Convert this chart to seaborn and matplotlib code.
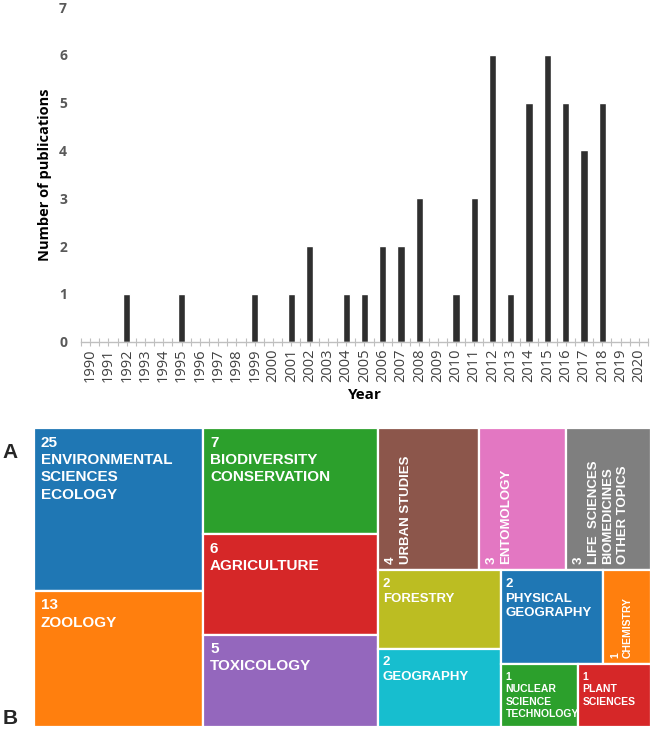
import matplotlib
matplotlib.use("Agg")
import matplotlib.pyplot as plt
import matplotlib.patches as mpatches
from matplotlib.ticker import FixedLocator
import seaborn as sns
import pandas as pd

# ---------------- data ----------------
years = [str(y) for y in range(1990, 2021)]
publications = [0, 0, 1, 0, 0, 1, 0, 0, 0, 1, 0, 1, 2, 0, 1, 1, 2, 2, 3, 0,
                1, 3, 6, 1, 5, 6, 5, 4, 5, 0, 0]
y_ticks = [0, 1, 2, 3, 4, 5, 6, 7]

categories = ["ENVIRONMENTAL\nSCIENCES\nECOLOGY", "ZOOLOGY", "BIODIVERSITY\nCONSERVATION",
              "AGRICULTURE", "TOXICOLOGY", "URBAN STUDIES", "ENTOMOLOGY",
              "LIFE  SCIENCES\nBIOMEDICINES\nOTHER TOPICS", "FORESTRY", "GEOGRAPHY",
              "PHYSICAL\nGEOGRAPHY", "CHEMISTRY", "NUCLEAR\nSCIENCE\nTECHNOLOGY",
              "PLANT\nSCIENCES"]
category_counts = [25, 13, 7, 6, 5, 4, 3, 3, 2, 2, 2, 1, 1, 1]
# relative tile sizes as drawn in the reference treemap
tile_sizes = [269, 225, 181, 172, 158, 140, 122, 118, 94, 94, 94, 44, 47, 45]
rotated = [False, False, False, False, False, True, True, True, False, False,
           False, True, False, False]
label_sizes = [11, 11, 11, 11, 11, 9.5, 9.5, 9.5, 9.5, 9.5, 9.5, 7.5, 7.5, 7.5]

# nested slice layout of the treemap: 'h' = side by side, 'v' = stacked
tree = ('h', [('v', [0, 1]),
              ('v', [2, 3, 4]),
              ('v', [('h', [5, 6, 7]),
                     ('h', [('v', [8, 9]),
                            ('v', [('h', [10, 11]), ('h', [12, 13])])])])])

# ---------------- figure ----------------
sns.set_style("white")
plt.rcParams['font.family'] = ['Open Sans', 'DejaVu Sans']

fig = plt.figure(figsize=(6.51, 7.34), dpi=100)

# ---- bar chart ----
ax = fig.add_axes([81/651, 1 - 341.7/734, (648-81)/651, (341.7-7)/734])
df = pd.DataFrame({"Year": years, "Publications": publications})
sns.barplot(data=df, x="Year", y="Publications", color="#2f2f2f", width=0.4,
            saturation=1, ax=ax, order=years)
ax.set_xlim(-0.5, len(years) - 0.5)
ax.set_ylim(0, 7)
ax.set_yticks(y_ticks)
for s in ["top", "right", "left"]:
    ax.spines[s].set_visible(False)
ax.spines["bottom"].set_color("#bfbfbf")
ax.spines["bottom"].set_linewidth(1.0)
ax.xaxis.set_minor_locator(FixedLocator([i - 0.5 for i in range(len(years) + 1)]))
ax.tick_params(axis="x", which="both", direction="inout", length=6, width=0.8,
               color="#bfbfbf", bottom=True)
ax.tick_params(axis="x", which="major", labelsize=10.5, labelcolor="#404040",
               labelrotation=90, pad=2)
ax.tick_params(axis="y", length=0, labelsize=10, labelcolor="#595959", pad=10)
for t in ax.get_yticklabels():
    t.set_fontweight("bold")
ax.set_xlabel("Year", fontsize=11, fontweight="bold", color="black", labelpad=4)
ax.set_ylabel("Number of publications", fontsize=10.5, fontweight="bold",
              color="black", labelpad=5)
ax.grid(False)

# ---- treemap ----
tx = fig.add_axes([34/651, 1 - 727/734, (651-34)/651, (727-428)/734])
tx.set_xlim(0, 1)
tx.set_ylim(1, 0)
tx.axis("off")

palette = sns.color_palette("tab10", 10)


def weight(node):
    if isinstance(node, int):
        return tile_sizes[node]
    return sum(weight(c) for c in node[1])


rects = {}


def layout(node, x, y, w, h):
    if isinstance(node, int):
        rects[node] = (x, y, w, h)
        return
    d, children = node
    tot = weight(node)
    pos = 0.0
    for c in children:
        f = weight(c) / tot
        if d == 'h':
            layout(c, x + pos * w, y, f * w, h)
        else:
            layout(c, x, y + pos * h, w, f * h)
        pos += f


layout(tree, 0, 0, 1, 1)

for i in range(len(categories)):
    x, y, w, h = rects[i]
    tx.add_patch(mpatches.Rectangle((x, y), w, h, facecolor=palette[i % 10],
                                    edgecolor="white", linewidth=1.6))
    label = f"{category_counts[i]}\n{categories[i]}"
    if rotated[i]:
        tx.annotate(label, xy=(x, y + h), xytext=(5, 4.5),
                    textcoords="offset points", rotation=90,
                    rotation_mode="anchor", ha="left", va="top",
                    fontsize=label_sizes[i], fontweight="bold", color="white",
                    family="Liberation Sans", linespacing=1.3)
    else:
        pad = 5 if label_sizes[i] >= 11 else 3.5
        tx.annotate(label, xy=(x, y), xytext=(pad, -5.5),
                    textcoords="offset points", ha="left", va="top",
                    fontsize=label_sizes[i], fontweight="bold", color="white",
                    family="Liberation Sans", linespacing=1.3)

fig.text(10/651, 1 - 452/734, "A", fontsize=15, fontweight="bold",
         ha="center", va="center", family="Liberation Sans")
fig.text(10/651, 1 - 719/734, "B", fontsize=15, fontweight="bold",
         ha="center", va="center", family="Liberation Sans")

fig.savefig("out.png", dpi=100)
